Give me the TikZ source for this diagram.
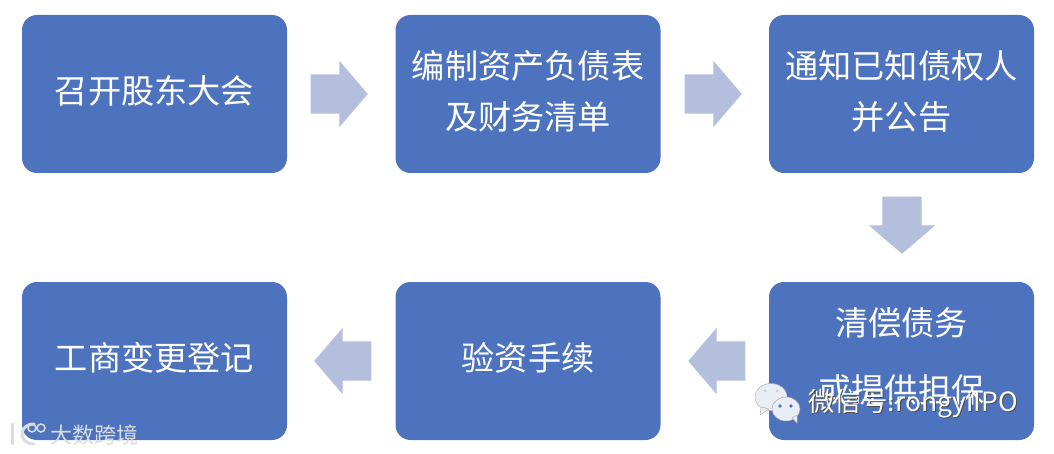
\documentclass[tikz,border=0pt]{standalone}
\usepackage{fontspec}
\newfontfamily\cjk{Noto Sans CJK SC}
\usetikzlibrary{shapes.arrows}
\definecolor{boxblue}{HTML}{4E73BE}
\definecolor{arrowblue}{HTML}{B4BEDD}
\definecolor{iconfill}{HTML}{E9EDF6}
\definecolor{logogray}{HTML}{D9DCE2}
\tikzset{
  stepbox/.style={fill=boxblue,rounded corners=15pt,minimum width=265pt,minimum height=158pt,inner sep=0pt,anchor=center},
  label/.style={text=white,font=\cjk\fontsize{33.2}{33.2}\selectfont,inner sep=0pt,anchor=center},
  blockarrow/.style={single arrow,fill=arrowblue,inner sep=0pt,text height=39pt,text depth=0pt,text width=0pt,minimum height=57pt,single arrow head extend=13.5pt,single arrow tip angle=99,anchor=tip,rotate=#1},
  markshadow/.style={text=black!70,font=\cjk\fontsize{26.5}{26.5}\selectfont,inner sep=0pt,anchor=west},
  marktext/.style={text=white,font=\cjk\fontsize{26.5}{26.5}\selectfont,inner sep=0pt,anchor=west},
  logotext/.style={text=logogray,font=\cjk\fontsize{22}{22}\selectfont,inner sep=0pt,anchor=west},
  logoline/.style={draw=logogray,line width=3pt,line cap=round},
}
\begin{document}
\begin{tikzpicture}[x=1pt,y=-1pt]
\useasboundingbox (0,0) rectangle (1054,454);
\fill[white] (0,0) rectangle (1054,454);
% boxes
\node[stepbox] (b1) at (154.5,94) {};
\node[stepbox] (b2) at (528,94) {};
\node[stepbox] (b3) at (901.5,94) {};
\node[stepbox] (b4) at (901.5,361) {};
\node[stepbox] (b5) at (528,361) {};
\node[stepbox] (b6) at (154.5,361) {};
% labels
\node[label] (t1) at (154.5,91) {召开股东大会};
\node[label] (t2a) at (528,66) {编制资产负债表};
\node[label] (t2b) at (528,117) {及财务清单};
\node[label] (t3a) at (901.5,66) {通知已知债权人};
\node[label] (t3b) at (901.5,117) {并公告};
\node[label] (t4a) at (901.5,323) {清偿债务};
\node[label] (t4b) at (901.5,390) {或提供担保};
\node[label] (t5) at (528,358) {验资手续};
\node[label] (t6) at (154.5,358) {工商变更登记};
% arrows
\node[blockarrow=0] (a1) at (368,94) {};
\node[blockarrow=0] (a2) at (742,94) {};
\node[blockarrow=-90] (a3) at (902,254) {};
\node[blockarrow=180] (a4) at (688,361) {};
\node[blockarrow=180] (a5) at (314,361) {};
% wechat watermark
\fill[iconfill,draw=gray!60,line width=.5pt] (771,397) ellipse (16pt and 13.5pt);
\fill[iconfill,draw=gray!60,line width=.5pt] (761,407) -- (760,415) -- (769,409) -- cycle;
\fill[iconfill,draw=gray!70,line width=.5pt] (786,409) ellipse (14pt and 12pt);
\fill[iconfill,draw=gray!60,line width=.5pt] (792,418) -- (797,423) -- (797,415) -- cycle;
\fill[boxblue] (780,406) circle (1.8pt) (791,406) circle (1.8pt);
\fill[white!60!gray] (765,391) circle (1.5pt) (777,391) circle (1.5pt);
\node[markshadow] (w0) at (809,405) {微信号:rongyiIPO};
\node[marktext] (w1) at (808,404) {微信号:rongyiIPO};
% corner watermark
\draw[logoline] (12,424) -- (12,444);
\draw[logoline] (34,424) .. controls (18,424) and (18,444) .. (34,444);
\draw[logogray,line width=1.5pt] (32,428) ellipse (4pt and 4pt) (41,428) ellipse (4pt and 4pt);
\node[logotext] (w2) at (50,435) {大数跨境};
\end{tikzpicture}
\end{document}
